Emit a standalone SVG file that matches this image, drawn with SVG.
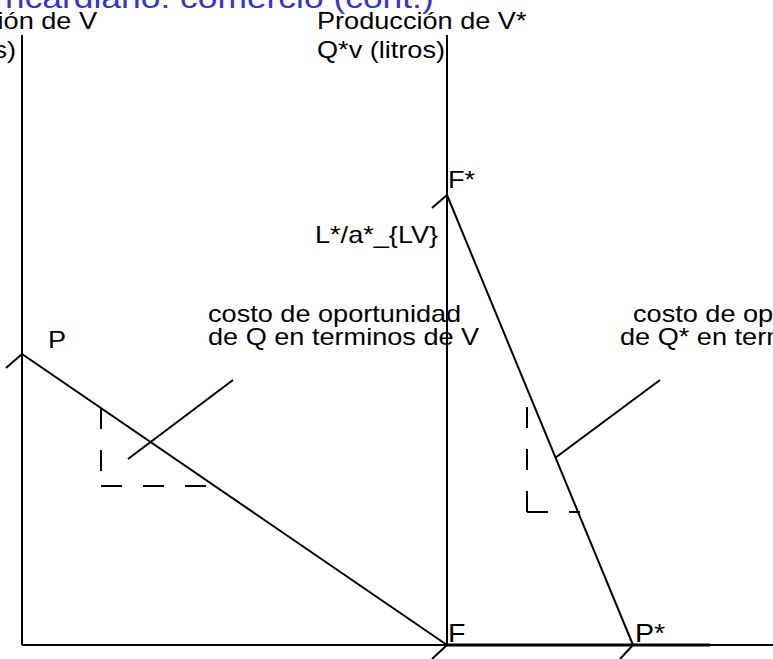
<svg xmlns="http://www.w3.org/2000/svg" width="773" height="659" viewBox="0 0 773 659">
<style>
.t{font-family:"Liberation Sans",Arial,sans-serif;font-size:24px;fill:#000}
.big{font-size:26px}
.ttl{font-family:"Liberation Sans",Arial,sans-serif;font-size:30px;fill:#3636c8}
.ln{stroke:#000;stroke-width:2;fill:none}
.dash{stroke:#000;stroke-width:2;fill:none;stroke-dasharray:21 21}
</style>
<rect width="773" height="659" fill="#fff"/>
<g id="title">
<text class="ttl" transform="translate(5,8) scale(1.18,1)">ricardiano: comercio (cont.)</text>
</g>
<g id="axes">
<line class="ln" x1="22" y1="35" x2="22" y2="645"/>
<line class="ln" x1="447" y1="35" x2="447" y2="645"/>
<line class="ln" x1="22" y1="645" x2="773" y2="645"/>
<line stroke="#000" stroke-width="3" x1="447" y1="645" x2="710" y2="645"/>
</g>
<g id="connectors">
<line class="ln" x1="22" y1="354" x2="447" y2="645"/>
<line class="ln" x1="447" y1="195" x2="633" y2="645"/>
<line class="ln" x1="22" y1="354" x2="6" y2="368"/>
<line class="ln" x1="447" y1="195" x2="432" y2="208"/>
<line class="ln" x1="447" y1="645" x2="432" y2="659"/>
<line class="ln" x1="633" y1="645" x2="620" y2="659"/>
<line class="dash" x1="101" y1="408" x2="101" y2="486"/>
<line class="dash" x1="101" y1="486" x2="210" y2="486"/>
<line class="dash" x1="527" y1="407" x2="527" y2="512"/>
<line class="dash" x1="527" y1="512" x2="580" y2="512"/>
<line class="ln" x1="128" y1="459" x2="233" y2="380"/>
<line class="ln" x1="555" y1="458" x2="660" y2="380"/>
</g>
<g id="labels-left">
<text class="t" text-anchor="end" transform="translate(97,29) scale(1.13,1)">ión de V</text>
<text class="t" text-anchor="end" transform="translate(16,58) scale(1.13,1)">s)</text>
<text class="t" transform="translate(48,348) scale(1.13,1)">P</text>
<text class="t" transform="translate(208,322) scale(1.13,1)">costo de oportunidad</text>
<text class="t" transform="translate(208,345) scale(1.13,1)">de Q en terminos de V</text>
<text class="t big" transform="translate(448,642) scale(1.1,1)">F</text>
</g>
<g id="labels-right">
<text class="t" transform="translate(317,29) scale(1.13,1)">Producción de V*</text>
<text class="t" transform="translate(317,58) scale(1.13,1)">Q*v (litros)</text>
<text class="t" transform="translate(448,188) scale(1.13,1)">F*</text>
<text class="t" transform="translate(315,243) scale(1.13,1)">L*/a*_{LV}</text>
<text class="t" transform="translate(633,322) scale(1.13,1)">costo de op</text>
<text class="t" transform="translate(620,345) scale(1.13,1)">de Q* en term</text>
<text class="t big" transform="translate(635,642) scale(1.1,1)">P*</text>
</g>
</svg>
